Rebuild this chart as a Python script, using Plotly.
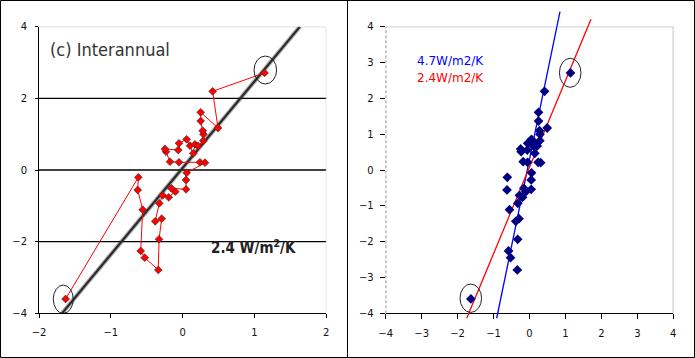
import plotly.graph_objects as go

# ---------------- data ----------------
# interannual anomalies, in time order (x: temperature anomaly K, y: flux anomaly W/m2)
temp_anom = [-1.63, -0.617, -0.626, -0.556, -0.584, -0.528, -0.339, -0.329, -0.292, -0.381,
             -0.325, -0.278, -0.194, -0.103, -0.158, 0.047, 0.047, 0.056, 0.311, 0.241,
             -0.051, -0.176, -0.232, -0.246, -0.061, -0.051, 0.056, 0.102, 0.148, 0.172,
             0.214, 0.287, 0.29, 0.279, 0.251, 0.251, 0.492, 0.418, 1.14]
flux_anom = [-3.60, -0.204, -0.558, -1.107, -2.26, -2.447, -2.79, -1.934, -1.359, -1.432,
             -0.929, -0.706, -0.762, -0.605, -0.51, -0.54, -0.279, -0.08, 0.204, 0.215,
             0.215, 0.231, 0.511, 0.586, 0.558, 0.745, 0.857, 0.678, 0.466, 0.717,
             0.670, 0.818, 0.996, 1.096, 1.367, 1.61, 1.172, 2.196, 2.71]

# regression fits: slope, intercept, x-extent of drawn segment
left_fit = dict(slope=2.415, intercept=0.057)
fit_labels = ["4.7W/m2/K", "2.4W/m2/K"]
fit_slopes = [4.86, 2.415]
fit_intercepts = [0.30, 0.079]
fit_x_ends = [(-0.913, 0.848), (-1.747, 1.71)]
fit_colors = ["#0000FF", "#FF0000"]

left_xticks = [-2, -1, 0, 1, 2]
left_yticks = [-4, -2, 0, 2, 4]
right_ticks = [-4, -3, -2, -1, 0, 1, 2, 3, 4]

# ---------------- layout geometry ----------------
W, H = 695, 358
def px_x(p): return p / W
def px_y(p): return 1 - p / H

xdom1 = [px_x(39), px_x(326.3)]
xdom2 = [px_x(385.7), px_x(673.3)]
ydom = [px_y(313.33), px_y(26.67)]
per = (ydom[1] - ydom[0]) / 8.0
lo3, hi3 = -4.25, 4.5
ydom3 = [ydom[0] + (lo3 + 4) * per, ydom[0] + (hi3 + 4) * per]

fig = go.Figure()

# left panel regression line (clipped to plot)
m, b = left_fit["slope"], left_fit["intercept"]
lx = [(-4 - b) / m, (4 - b) / m]
ly = [m * v + b for v in lx]
fig.add_trace(go.Scatter(x=lx, y=ly, mode="lines", xaxis="x", yaxis="y",
                         line=dict(color="rgba(40,40,40,0.35)", width=4.5), hoverinfo="skip"))
fig.add_trace(go.Scatter(x=lx, y=ly, mode="lines", xaxis="x", yaxis="y",
                         line=dict(color="#2a2a2a", width=2.2), hoverinfo="skip"))
# left panel time series
fig.add_trace(go.Scatter(x=temp_anom, y=flux_anom, mode="lines+markers", xaxis="x", yaxis="y",
                         line=dict(color="#FF0000", width=1),
                         marker=dict(symbol="diamond", size=6, color="#FF0000",
                                     line=dict(color="rgba(40,40,40,0.6)", width=1))))

# right panel: empty trace to anchor axes
fig.add_trace(go.Scatter(x=[], y=[], xaxis="x2", yaxis="y2", showlegend=False))
# right panel fit lines (extend slightly beyond frame)
for s, c, (x0, x1), col in zip(fit_slopes, fit_intercepts, fit_x_ends, fit_colors):
    fig.add_trace(go.Scatter(x=[x0, x1], y=[s * x0 + c, s * x1 + c], mode="lines",
                             xaxis="x2", yaxis="y3", line=dict(color=col, width=1.3),
                             hoverinfo="skip"))
fig.add_trace(go.Scatter(x=temp_anom, y=flux_anom, mode="markers", xaxis="x2", yaxis="y3",
                         marker=dict(symbol="diamond", size=7.5, color="#000080",
                                     line=dict(width=0))))

tickfont = dict(family="DejaVu Sans", size=10, color="#111111")
common = dict(automargin=False, showgrid=False, zeroline=False, tickfont=tickfont,
              tickcolor="black", ticks="outside")
fig.update_layout(
    width=W, height=H, margin=dict(l=0, r=0, t=0, b=0, autoexpand=False),
    paper_bgcolor="white", plot_bgcolor="rgba(0,0,0,0)", showlegend=False,
    xaxis=dict(domain=xdom1, range=[-2, 2], tickvals=left_xticks, ticklen=4,
               showline=True, linecolor="black", linewidth=1, anchor="y",
               ticklabelstandoff=6, **common),
    yaxis=dict(domain=ydom, range=[-4, 4], tickvals=left_yticks, ticklen=3,
               showline=True, linecolor="black", linewidth=1, anchor="x",
               ticklabelstandoff=6, **common),
    xaxis2=dict(domain=xdom2, range=[-4, 4], tickvals=right_ticks, ticklen=5,
                showline=True, linecolor="black", linewidth=1, anchor="y2",
                ticklabelstandoff=6, **common),
    yaxis2=dict(domain=ydom, range=[-4, 4], tickvals=right_ticks, ticklen=5,
                showline=False, anchor="x2", ticklabelstandoff=4, **common),
    yaxis3=dict(domain=ydom3, range=[lo3, hi3], anchor="x2", visible=False,
                showgrid=False, zeroline=False, automargin=False),
)

shapes = []
# outer border and divider
shapes.append(dict(type="rect", xref="paper", yref="paper", x0=px_x(0.5), x1=px_x(694.5),
                   y0=px_y(357.5), y1=px_y(0.5), line=dict(color="black", width=1)))
shapes.append(dict(type="line", xref="paper", yref="paper", x0=px_x(347.5), x1=px_x(347.5),
                   y0=0, y1=1, line=dict(color="black", width=1)))
# left panel gridlines and light frame
for gy in left_yticks[1:-1]:
    shapes.append(dict(type="line", xref="x", yref="y", x0=-2, x1=2, y0=gy, y1=gy,
                       line=dict(color="black", width=1.3), layer="below"))
shapes.append(dict(type="line", xref="x", yref="y", x0=-2, x1=2, y0=4, y1=4,
                   line=dict(color="#b0b0b0", width=1)))
shapes.append(dict(type="line", xref="x", yref="y", x0=2, x1=2, y0=-4, y1=4,
                   line=dict(color="#c8c8c8", width=1)))
# right panel frame
shapes.append(dict(type="line", xref="x2", yref="y2", x0=-4, x1=4, y0=4, y1=4,
                   line=dict(color="#808080", width=1)))
shapes.append(dict(type="line", xref="x2", yref="y2", x0=4, x1=4, y0=-4, y1=4,
                   line=dict(color="#808080", width=1)))
shapes.append(dict(type="line", xref="x2", yref="y2", x0=-4, x1=-4, y0=-4, y1=4,
                   line=dict(color="black", width=1, dash="3px,2px")))
# ellipses around end points
for xr, yr, cx, cy, rx, ry in [("x", "y", 1.151, 2.79, 0.157, 0.39),
                               ("x", "y", -1.662, -3.606, 0.139, 0.395),
                               ("x2", "y2", 1.132, 2.713, 0.30, 0.405),
                               ("x2", "y2", -1.633, -3.578, 0.30, 0.396)]:
    shapes.append(dict(type="circle", xref=xr, yref=yr, x0=cx - rx, x1=cx + rx,
                       y0=cy - ry, y1=cy + ry, line=dict(color="#222222", width=1)))
fig.update_layout(shapes=shapes)

cond = "DejaVu Sans Condensed, Liberation Sans Narrow, Liberation Sans, Arial"
ann = []
ann.append(dict(text="(c) Interannual", xref="paper", yref="paper", x=px_x(48), y=px_y(49),
                xanchor="left", yanchor="middle", showarrow=False,
                font=dict(family=cond, size=18, color="#333333")))
ann.append(dict(text="<b>2.4 W/m<sup>2</sup>/K</b>", xref="paper", yref="paper", x=px_x(209),
                y=px_y(247), xanchor="left", yanchor="middle", showarrow=False,
                font=dict(family=cond, size=15, color="#222222")))
for i, (lab, col) in enumerate(zip(fit_labels, fit_colors)):
    ann.append(dict(text=lab, xref="paper", yref="paper", x=px_x(415), y=px_y(61 + 17 * i),
                    xanchor="left", yanchor="middle", showarrow=False,
                    font=dict(family="DejaVu Sans", size=12, color=col)))
fig.update_layout(annotations=ann)

fig.write_html("out.html", config={"displayModeBar": False},
               post_script="document.body.style.margin='0px';document.body.style.padding='0px';")
